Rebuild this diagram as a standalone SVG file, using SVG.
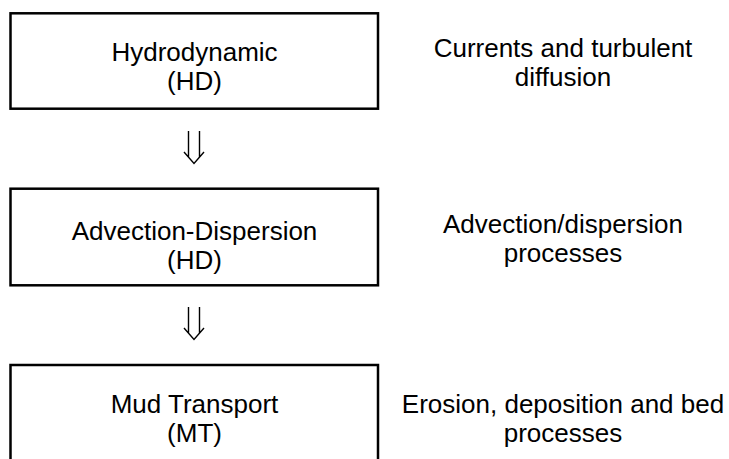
<svg xmlns="http://www.w3.org/2000/svg" width="729" height="459" viewBox="0 0 729 459">
<style>
.box{fill:#fff;stroke:#000;stroke-width:2.5}
.t{font-family:"Liberation Sans",Arial,sans-serif;font-size:26px;fill:#000;text-anchor:middle}
.arr{fill:none;stroke:#000;stroke-width:1.4}
</style>
<rect width="729" height="459" fill="#fff"/>
<g id="hd">
<rect class="box" x="10.5" y="13.3" width="367.5" height="95.4"/>
<text class="t" x="194.5" y="61">Hydrodynamic</text>
<text class="t" x="194.5" y="90">(HD)</text>
</g>
<g id="hd-desc">
<text class="t" x="563" y="56.5">Currents and turbulent</text>
<text class="t" x="563" y="85.5">diffusion</text>
</g>
<g id="ad">
<rect class="box" x="10.5" y="188.7" width="367.5" height="96.6"/>
<text class="t" x="194.5" y="240">Advection-Dispersion</text>
<text class="t" x="194.5" y="269">(HD)</text>
</g>
<g id="ad-desc">
<text class="t" x="563" y="232.5">Advection/dispersion</text>
<text class="t" x="563" y="261.5">processes</text>
</g>
<g id="mt">
<rect class="box" x="10.5" y="365" width="367.5" height="110"/>
<text class="t" x="194.5" y="413">Mud Transport</text>
<text class="t" x="194.5" y="442">(MT)</text>
</g>
<g id="mt-desc">
<text class="t" x="563" y="413">Erosion, deposition and bed</text>
<text class="t" x="563" y="442">processes</text>
</g>
<g id="connectors">
<path class="arr" d="M188.5 131V157M199.5 131V157M184 152L194 163.5L204 152"/>
<path class="arr" d="M188.5 307V333M199.5 307V333M184 328L194 339.5L204 328"/>
</g>
</svg>
